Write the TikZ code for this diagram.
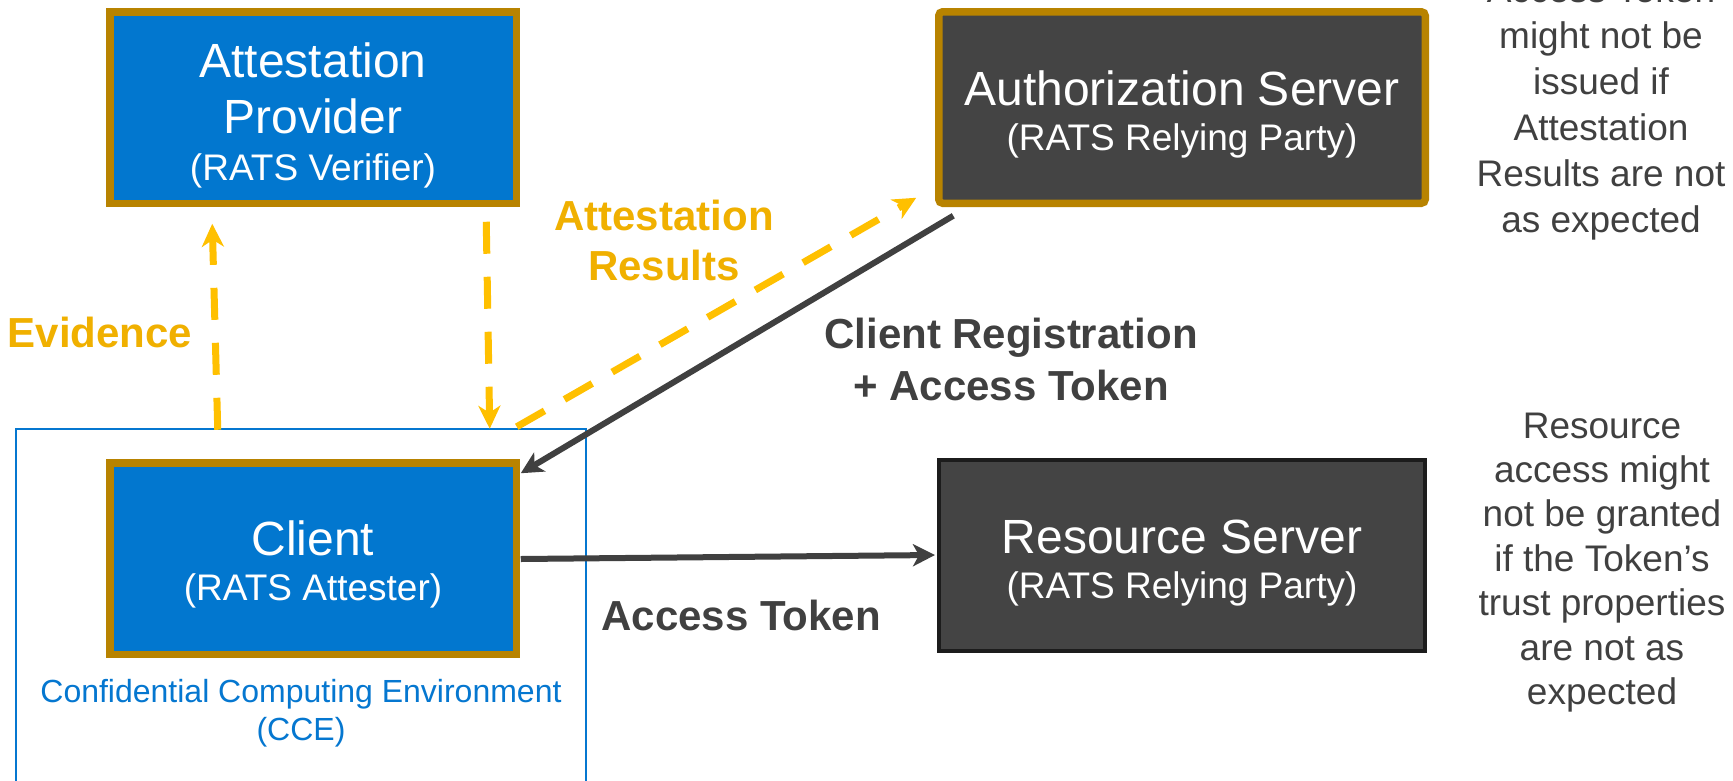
\documentclass[tikz,border=0pt]{standalone}
\usepackage{fontspec}
\setmainfont{Liberation Sans}
\usetikzlibrary{arrows.meta,calc}
\definecolor{tealblue}{HTML}{0277CF}
\definecolor{goldedge}{HTML}{B88300}
\definecolor{slate}{HTML}{444444}
\definecolor{inkgrey}{HTML}{404040}
\definecolor{amber}{HTML}{FFC000}
\definecolor{ambertext}{HTML}{F0B000}
\definecolor{cceblue}{HTML}{0577D0}
\definecolor{rsedge}{HTML}{1C1C1C}
\begin{document}
\begin{tikzpicture}[x=1pt,y=-1pt,
  entity/.style={draw=goldedge, line width=7.5pt, fill=tealblue,
    minimum width=406.5pt, minimum height=191.5pt, inner sep=0pt},
  server/.style={entity, fill=slate, minimum width=486.5pt},
  title/.style={anchor=base, text=white, font=\fontsize{48}{56}\selectfont, inner sep=0pt},
  role/.style={anchor=base, text=white, font=\fontsize{37}{44}\selectfont, inner sep=0pt},
  flowlabel/.style={anchor=base, font=\bfseries\fontsize{42}{50}\selectfont, inner sep=0pt},
  note/.style={anchor=base, text=inkgrey, font=\fontsize{37}{44}\selectfont, inner sep=0pt},
  ccetext/.style={anchor=base, text=cceblue, font=\fontsize{32}{38}\selectfont, inner sep=0pt},
  amberflow/.style={draw=amber, line width=7pt, dash pattern=on 32pt off 23pt,
    -{Stealth[length=23pt,width=22pt,inset=7pt]}},
  darkflow/.style={draw=inkgrey, line width=6pt,
    -{Stealth[length=22pt,width=22pt,inset=6pt]}},
]
\fill[white] (0,0) rectangle (1733,780);
\useasboundingbox (0,0) rectangle (1733,780);

% confidential computing environment frame
\node[draw=cceblue, line width=2.5pt, minimum width=570pt, minimum height=353pt,
  inner sep=0pt] (cce) at (301,605.5) {};
\node[ccetext] (ccel1) at (301,702) {Confidential Computing Environment};
\node[ccetext] (ccel2) at (301,740) {(CCE)};

% parties
\node[entity] (prov) at (313,107.5) {};
\node[title] (provt1) at (313,77) {Attestation};
\node[title] (provt2) at (313,133) {Provider};
\node[role] (provr) at (313,180) {(RATS Verifier)};

\node[server, rounded corners=4pt] (auth) at (1182,107.5) {};
\node[title] (autht) at (1182,105) {Authorization Server};
\node[role] (authr) at (1182,150) {(RATS Relying Party)};

\node[entity] (client) at (313,558.5) {};
\node[title] (clientt) at (313,555) {Client};
\node[role] (clientr) at (313,600) {(RATS Attester)};

\node[server, draw=rsedge, line width=4pt, minimum width=486pt, minimum height=191pt]
  (res) at (1182,555.5) {};
\node[title] (rest) at (1182,553) {Resource Server};
\node[role] (resr) at (1182,598) {(RATS Relying Party)};

% flows
\draw[amberflow] ($(cce.north west)+(203,2)$) -- ($(prov.south west)+(106.25,16.75)$);
\draw[amberflow] ($(prov.south west)+(380.25,14.75)$) -- ($(cce.north west)+(475,1)$);
\draw[amberflow] ($(cce.north west)+(502,-1)$) -- ($(auth.south west)+(-18.75,-9.25)$);
\draw[darkflow] ($(auth.south west)+(18.25,8.75)$) -- ($(client.north east)+(0.75,14.25)$);
\draw[darkflow] ($(client.east)+(0.75,0.5)$) -- ($(res.west)+(-2,-0.5)$);

% flow labels
\node[flowlabel, text=ambertext] (evid) at (100,347) {Evidence};
\node[flowlabel, text=ambertext] (ares1) at (664,230) {Attestation};
\node[flowlabel, text=ambertext] (ares2) at (664,280) {Results};
\node[flowlabel, text=inkgrey] (creg1) at (1011,348) {Client Registration};
\node[flowlabel, text=inkgrey] (creg2) at (1011,400) {+ Access Token};
\node[flowlabel, text=inkgrey] (atok) at (741,630) {Access Token};

% side notes
\foreach \t [count=\i] in {Access Token, might not be, issued if, Attestation, Results are not, as expected}
  \node[note] (upnote\i) at (1601,{2+46*(\i-1)}) {\t};
\foreach \t [count=\i] in {Resource, access might, not be granted, if the Token’s, trust properties, are not as, expected}
  \node[note] (lownote\i) at (1602,{438+44.4*(\i-1)}) {\t};
\end{tikzpicture}
\end{document}
